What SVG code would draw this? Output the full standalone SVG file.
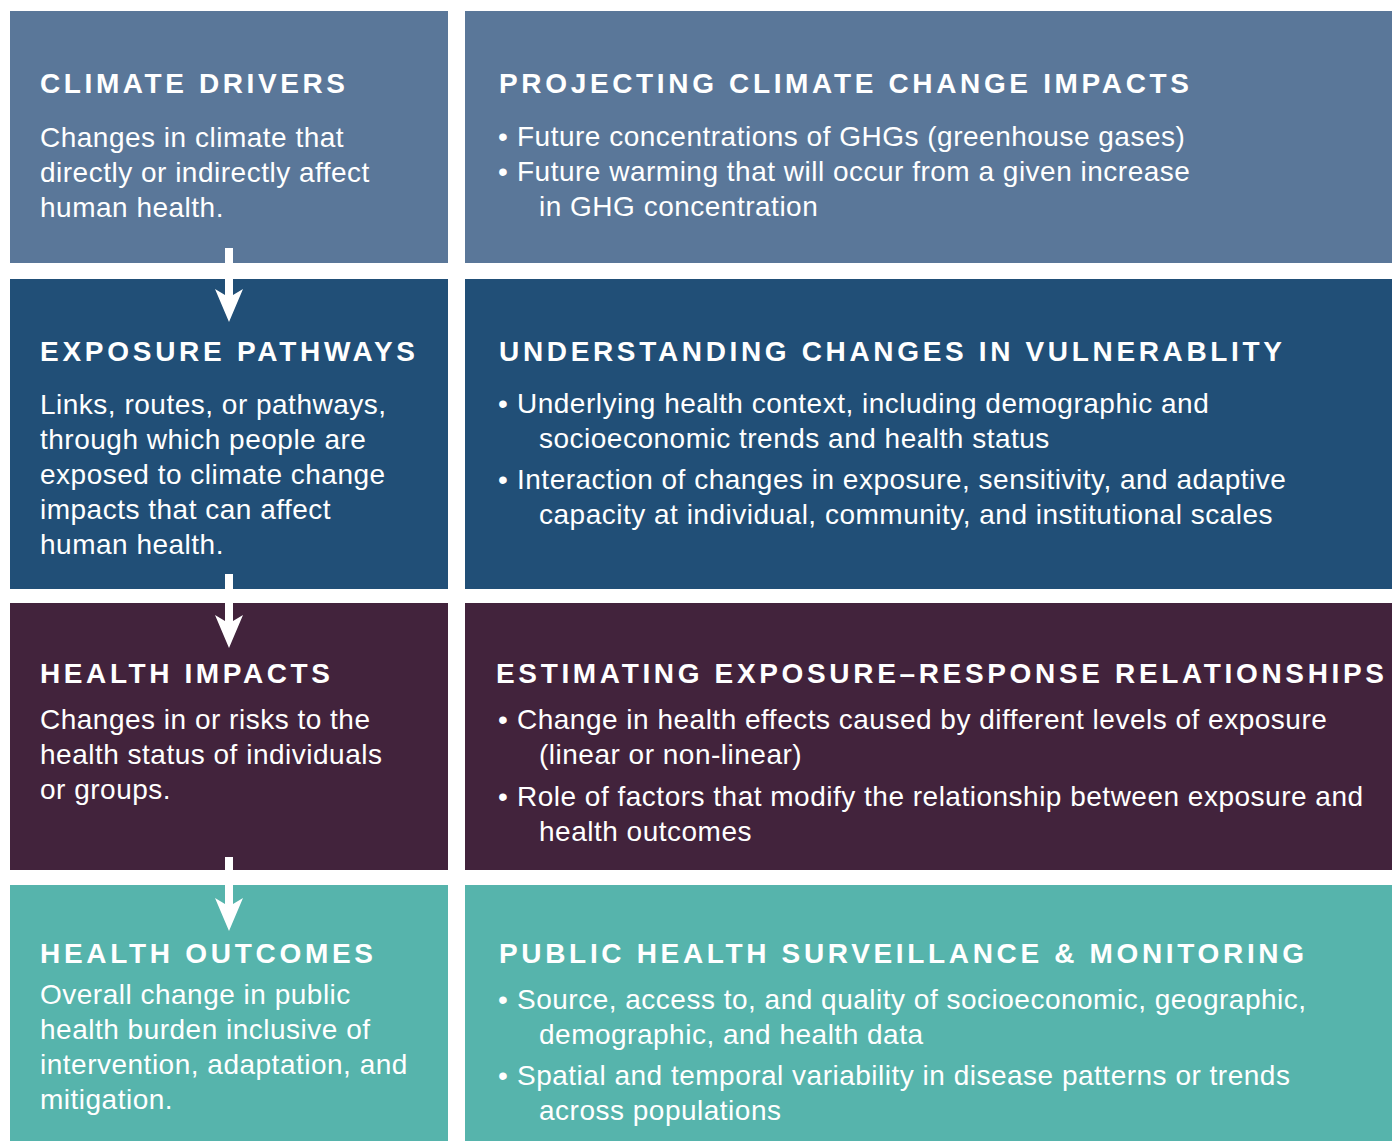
<svg xmlns="http://www.w3.org/2000/svg" width="1392" height="1141" viewBox="0 0 1392 1141">
<style>
.t{font-family:"Liberation Sans",Arial,sans-serif;font-weight:bold;font-size:28px;fill:#fff}
.b{font-family:"Liberation Sans",Arial,sans-serif;font-size:28px;fill:#fff;letter-spacing:0.5px}
.r1{fill:#5a7799}.r2{fill:#214f77}.r3{fill:#42233c}.r4{fill:#56b4ac}
.arr{fill:#fff}
</style>
<rect width="1392" height="1141" fill="#fff"/>
<g id="climate-drivers">
<rect class="r1" x="10" y="11" width="438" height="252"/>
<text class="t" x="40" y="93" textLength="305" lengthAdjust="spacing">CLIMATE DRIVERS</text>
<text class="b" x="40" y="147">Changes in climate that</text>
<text class="b" x="40" y="182">directly or indirectly affect</text>
<text class="b" x="40" y="217">human health.</text>
</g>
<g id="projecting">
<rect class="r1" x="465" y="11" width="927" height="252"/>
<text class="t" x="499" y="93" textLength="690" lengthAdjust="spacing">PROJECTING CLIMATE CHANGE IMPACTS</text>
<text class="b" x="498" y="146">•</text>
<text class="b" x="517" y="146">Future concentrations of GHGs (greenhouse gases)</text>
<text class="b" x="498" y="181">•</text>
<text class="b" x="517" y="181">Future warming that will occur from a given increase</text>
<text class="b" x="539" y="216">in GHG concentration</text>
</g>
<g id="exposure-pathways">
<rect class="r2" x="10" y="279" width="438" height="310"/>
<text class="t" x="40" y="361" textLength="375" lengthAdjust="spacing">EXPOSURE PATHWAYS</text>
<text class="b" x="40" y="414">Links, routes, or pathways,</text>
<text class="b" x="40" y="449">through which people are</text>
<text class="b" x="40" y="484">exposed to climate change</text>
<text class="b" x="40" y="519">impacts that can affect</text>
<text class="b" x="40" y="554">human health.</text>
</g>
<g id="vulnerability">
<rect class="r2" x="465" y="279" width="927" height="310"/>
<text class="t" x="499" y="361" textLength="783" lengthAdjust="spacing">UNDERSTANDING CHANGES IN VULNERABLITY</text>
<text class="b" x="498" y="413">•</text>
<text class="b" x="517" y="413">Underlying health context, including demographic and</text>
<text class="b" x="539" y="448">socioeconomic trends and health status</text>
<text class="b" x="498" y="489">•</text>
<text class="b" x="517" y="489">Interaction of changes in exposure, sensitivity, and adaptive</text>
<text class="b" x="539" y="524">capacity at individual, community, and institutional scales</text>
</g>
<g id="health-impacts">
<rect class="r3" x="10" y="603" width="438" height="267"/>
<text class="t" x="40" y="683" textLength="290" lengthAdjust="spacing">HEALTH IMPACTS</text>
<text class="b" x="40" y="729">Changes in or risks to the</text>
<text class="b" x="40" y="764">health status of individuals</text>
<text class="b" x="40" y="799">or groups.</text>
</g>
<g id="exposure-response">
<rect class="r3" x="465" y="603" width="927" height="267"/>
<text class="t" x="496" y="683" textLength="888" lengthAdjust="spacing">ESTIMATING EXPOSURE–RESPONSE RELATIONSHIPS</text>
<text class="b" x="498" y="729">•</text>
<text class="b" x="517" y="729">Change in health effects caused by different levels of exposure</text>
<text class="b" x="539" y="764">(linear or non-linear)</text>
<text class="b" x="498" y="806">•</text>
<text class="b" x="517" y="806">Role of factors that modify the relationship between exposure and</text>
<text class="b" x="539" y="841">health outcomes</text>
</g>
<g id="health-outcomes">
<rect class="r4" x="10" y="885" width="438" height="256"/>
<text class="t" x="40" y="963" textLength="333" lengthAdjust="spacing">HEALTH OUTCOMES</text>
<text class="b" x="40" y="1004">Overall change in public</text>
<text class="b" x="40" y="1039">health burden inclusive of</text>
<text class="b" x="40" y="1074">intervention, adaptation, and</text>
<text class="b" x="40" y="1109">mitigation.</text>
</g>
<g id="surveillance">
<rect class="r4" x="465" y="885" width="927" height="256"/>
<text class="t" x="499" y="963" textLength="805" lengthAdjust="spacing">PUBLIC HEALTH SURVEILLANCE &amp; MONITORING</text>
<text class="b" x="498" y="1009">•</text>
<text class="b" x="517" y="1009">Source, access to, and quality of socioeconomic, geographic,</text>
<text class="b" x="539" y="1044">demographic, and health data</text>
<text class="b" x="498" y="1085">•</text>
<text class="b" x="517" y="1085">Spatial and temporal variability in disease patterns or trends</text>
<text class="b" x="539" y="1120">across populations</text>
</g>
<g id="connectors">
<polygon class="arr" points="225,248 233,248 233,295 243,289 229,322 215,289 225,295"/>
<polygon class="arr" points="225,574 233,574 233,621 243,615 229,648 215,615 225,621"/>
<polygon class="arr" points="225,857 233,857 233,904 243,898 229,931 215,898 225,904"/>
</g>
</svg>
